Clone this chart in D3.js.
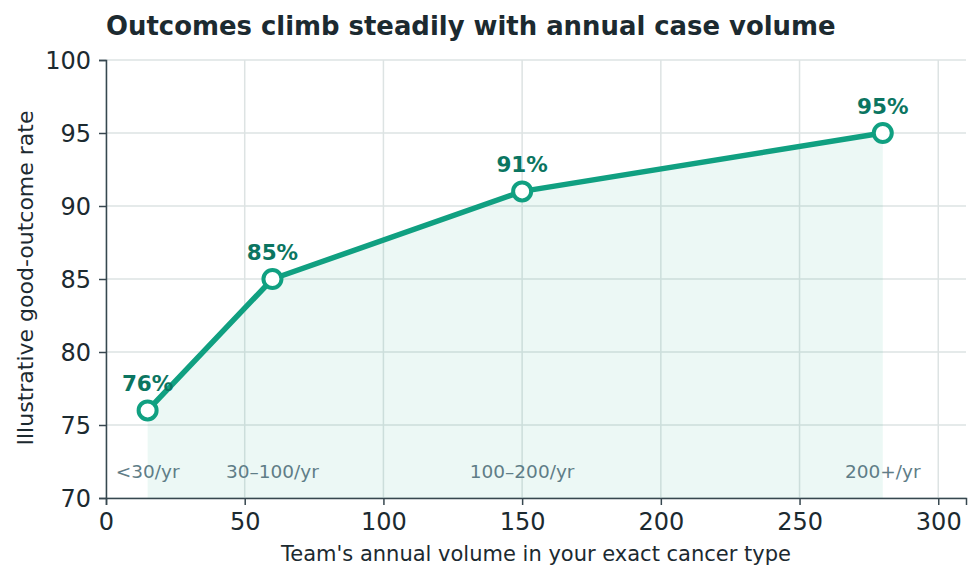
<!DOCTYPE html>
<html>
<head>
<meta charset="utf-8">
<script src="https://cdn.jsdelivr.net/npm/d3@7"></script>
<style>
  body { margin: 0; background: #fff; }
  svg { font-family: "DejaVu Sans", sans-serif; }
</style>
</head>
<body>
<svg width="980" height="580"></svg>
<script>
const volumes = [15, 60, 150, 280];
const outcomeRates = [76, 85, 91, 95];
const bandLabels = ["<30/yr", "30–100/yr", "100–200/yr", "200+/yr"];
const xTicks = [0, 50, 100, 150, 200, 250, 300];
const yTicks = [70, 75, 80, 85, 90, 95, 100];

const teal = "#10a081";
const tealDark = "#0b7561";
const axisColor = "#37474f";
const gridColor = "#dde3e3";

const svg = d3.select("svg");
const margin = {left: 106, right: 14, top: 60, bottom: 82};
const width = 980 - margin.left - margin.right;
const height = 580 - margin.top - margin.bottom;

const x = d3.scaleLinear().domain([0, 310]).range([0, width]);
const y = d3.scaleLinear().domain([70, 100]).range([height, 0]);

const points = volumes.map((v, i) => ({x: v, y: outcomeRates[i], band: bandLabels[i]}));

svg.append("text")
    .attr("x", margin.left)
    .attr("y", 35)
    .attr("font-size", 25.9)
    .attr("font-weight", "bold")
    .attr("fill", "#1c2a30")
    .text("Outcomes climb steadily with annual case volume");

const g = svg.append("g").attr("transform", `translate(${margin.left},${margin.top})`);

// grid
g.append("g")
    .selectAll("line")
    .data(yTicks)
    .enter().append("line")
    .attr("x1", 0).attr("x2", width)
    .attr("y1", d => y(d)).attr("y2", d => y(d))
    .attr("stroke", gridColor).attr("stroke-width", 1.5);

g.append("g")
    .selectAll("line")
    .data(xTicks)
    .enter().append("line")
    .attr("x1", d => x(d)).attr("x2", d => x(d))
    .attr("y1", 0).attr("y2", height)
    .attr("stroke", gridColor).attr("stroke-width", 1.5);

// area under the line
const area = d3.area()
    .x(d => x(d.x))
    .y0(y(70))
    .y1(d => y(d.y));

g.append("path")
    .datum(points)
    .attr("d", area)
    .attr("fill", teal)
    .attr("fill-opacity", 0.08);

// band labels
g.append("g")
    .selectAll("text")
    .data(points)
    .enter().append("text")
    .attr("x", d => x(d.x))
    .attr("y", y(71.4))
    .attr("text-anchor", "middle")
    .attr("font-size", 18.5)
    .attr("fill", "#5f7d87")
    .text(d => d.band);

// axes
const xAxis = g.append("g")
    .attr("transform", `translate(0,${height})`)
    .call(d3.axisBottom(x).tickValues(xTicks).tickSize(7).tickPadding(8));

const yAxis = g.append("g")
    .call(d3.axisLeft(y).tickValues(yTicks).tickSize(7).tickPadding(8));

[xAxis, yAxis].forEach(a => {
    a.select(".domain").attr("stroke", axisColor).attr("stroke-width", 1.5);
    a.selectAll(".tick line").attr("stroke", axisColor).attr("stroke-width", 1.5);
    a.selectAll(".tick text")
        .attr("fill", "#1c2a30")
        .attr("font-size", 24)
        .attr("font-family", "DejaVu Sans, sans-serif");
});

yAxis.selectAll(".tick text").attr("dy", "0.36em");

// axis labels
svg.append("text")
    .attr("x", margin.left + x(155))
    .attr("y", 561)
    .attr("text-anchor", "middle")
    .attr("font-size", 21)
    .attr("fill", "#1c2a30")
    .text("Team's annual volume in your exact cancer type");

svg.append("text")
    .attr("transform", `translate(33,${margin.top + height / 2 - 1}) rotate(-90)`)
    .attr("text-anchor", "middle")
    .attr("font-size", 22)
    .attr("fill", "#1c2a30")
    .text("Illustrative good-outcome rate");

// line
const line = d3.line()
    .x(d => x(d.x))
    .y(d => y(d.y));

g.append("path")
    .datum(points)
    .attr("d", line)
    .attr("fill", "none")
    .attr("stroke", teal)
    .attr("stroke-width", 5.5)
    .attr("stroke-linejoin", "round");

g.append("g")
    .selectAll("circle")
    .data(points)
    .enter().append("circle")
    .attr("cx", d => x(d.x))
    .attr("cy", d => y(d.y))
    .attr("r", 9)
    .attr("fill", "#fff")
    .attr("stroke", teal)
    .attr("stroke-width", 4);

g.append("g")
    .selectAll("text")
    .data(points)
    .enter().append("text")
    .attr("x", d => x(d.x))
    .attr("y", d => y(d.y) - 19)
    .attr("text-anchor", "middle")
    .attr("font-size", 21.5)
    .attr("font-weight", "bold")
    .attr("fill", tealDark)
    .text(d => `${d.y}%`);
</script>
</body>
</html>
